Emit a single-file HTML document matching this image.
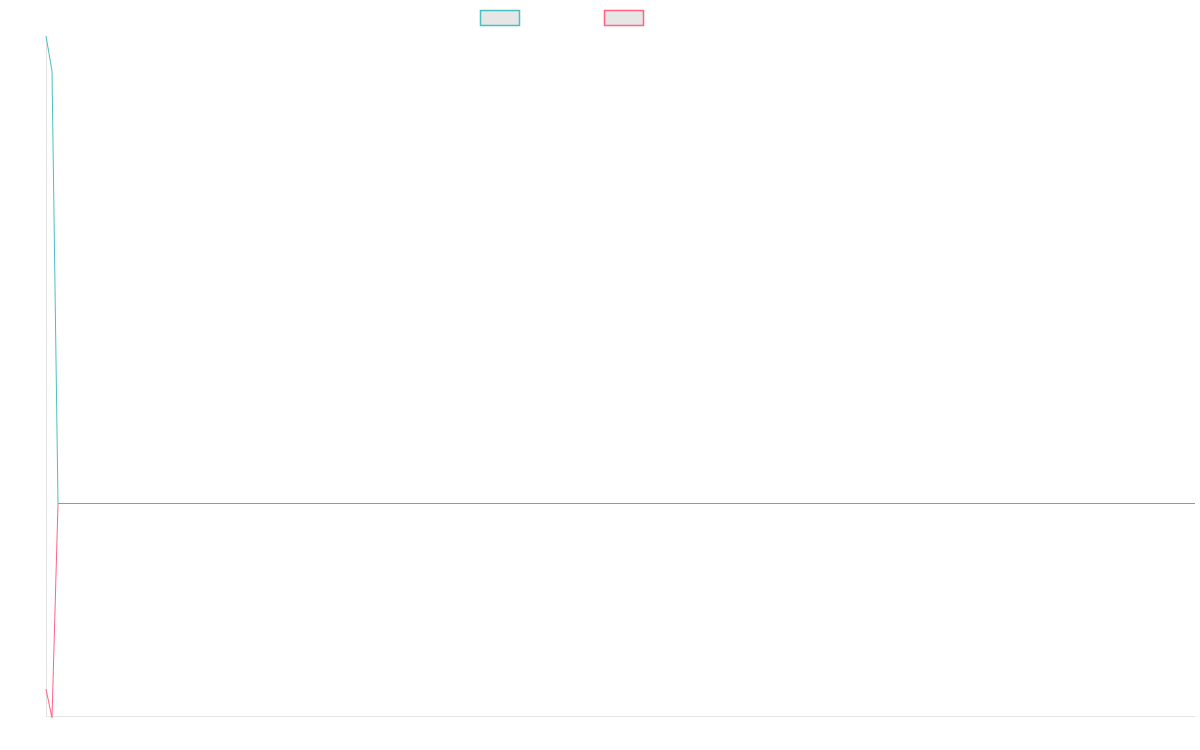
<!DOCTYPE html>
<html><head><style>html,body{margin:0;padding:0;background:#fff;}svg{display:block}</style></head>
<body>
<svg width="1200" height="750" xmlns="http://www.w3.org/2000/svg">
<rect x="480.5" y="10.5" width="39" height="15" fill="#e6e6e6" stroke="#4bc0c0" stroke-width="1.5"/>
<rect x="604.5" y="10.5" width="39" height="15" fill="#e6e6e6" stroke="#ff6384" stroke-width="1.5"/>
<line x1="46.5" y1="36" x2="46.5" y2="716.5" stroke="#e3e3e3" stroke-width="1"/>
<line x1="46" y1="716.5" x2="1195" y2="716.5" stroke="#e3e3e3" stroke-width="1"/>
<polyline points="46,36 52,71 58,503.5" fill="none" stroke="#4bc0c0" stroke-width="1"/>
<polyline points="46,689 52,718 58,503.5" fill="none" stroke="#ff6384" stroke-width="1"/>
<line x1="58" y1="503.5" x2="1195" y2="503.5" stroke="#8f9999" stroke-width="1"/>
</svg>
</body></html>
